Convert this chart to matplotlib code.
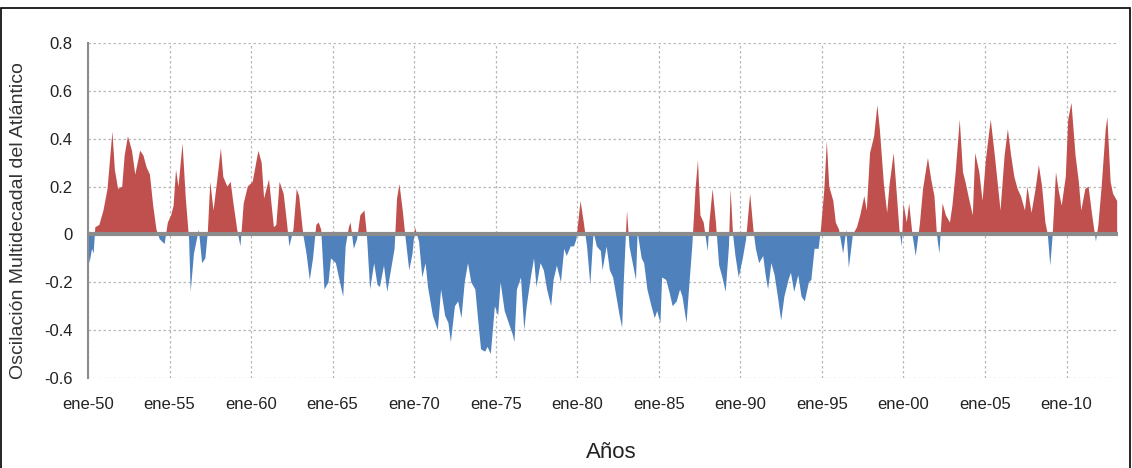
import numpy as np
import matplotlib
matplotlib.use("Agg")
import matplotlib.pyplot as plt
from matplotlib.patches import Rectangle

plt.rcParams['font.family'] = ['Liberation Sans', 'DejaVu Sans']

# fecha (año decimal) y valor del índice AMO
fechas = [
    1950.0, 1950.1, 1950.25, 1950.35, 1950.45, 1950.7, 1950.95, 1951.2, 1951.5, 1951.65,
    1951.85, 1952.1, 1952.25, 1952.45, 1952.7, 1952.9, 1953.2, 1953.4, 1953.6, 1953.8,
    1954.0, 1954.2, 1954.4, 1954.7, 1954.9, 1955.1, 1955.25, 1955.4, 1955.55, 1955.8,
    1956.0, 1956.2, 1956.3, 1956.5, 1956.8, 1957.0, 1957.2, 1957.35, 1957.5, 1957.7,
    1957.95, 1958.15, 1958.3, 1958.55, 1958.75, 1958.9, 1959.15, 1959.35, 1959.55, 1959.8,
    1960.1, 1960.45, 1960.65, 1960.8, 1961.1, 1961.4, 1961.55, 1961.75, 1962.0, 1962.2,
    1962.35, 1962.6, 1962.8, 1962.95, 1963.2, 1963.4, 1963.6, 1963.8, 1964.0, 1964.15,
    1964.3, 1964.5, 1964.75, 1964.9, 1965.2, 1965.55, 1965.65, 1965.8, 1966.0, 1966.1,
    1966.3, 1966.5, 1966.7, 1966.95, 1967.1, 1967.3, 1967.55, 1967.75, 1967.9, 1968.15,
    1968.35, 1968.55, 1968.8, 1968.95, 1969.1, 1969.3, 1969.45, 1969.7, 1969.9, 1970.05,
    1970.3, 1970.5, 1970.7, 1970.85, 1971.0, 1971.15, 1971.45, 1971.65, 1971.9, 1972.1,
    1972.25, 1972.5, 1972.7, 1972.9, 1973.1, 1973.3, 1973.5, 1973.75, 1973.9, 1974.1,
    1974.35, 1974.5, 1974.7, 1974.95, 1975.15, 1975.3, 1975.55, 1975.75, 1976.05, 1976.15,
    1976.3, 1976.55, 1976.75, 1976.9, 1977.15, 1977.35, 1977.5, 1977.75, 1977.95, 1978.15,
    1978.4, 1978.55, 1978.75, 1979.0, 1979.2, 1979.35, 1979.6, 1979.8, 1979.95, 1980.2,
    1980.4, 1980.6, 1980.8, 1981.0, 1981.2, 1981.45, 1981.55, 1981.8, 1982.0, 1982.2,
    1982.4, 1982.6, 1982.75, 1982.85, 1983.05, 1983.2, 1983.4, 1983.6, 1983.7, 1983.95,
    1984.1, 1984.3, 1984.55, 1984.75, 1984.9, 1985.1, 1985.2, 1985.45, 1985.65, 1985.85,
    1986.1, 1986.3, 1986.45, 1986.7, 1986.85, 1987.05, 1987.25, 1987.4, 1987.55, 1987.75,
    1988.0, 1988.1, 1988.3, 1988.5, 1988.7, 1988.9, 1989.1, 1989.3, 1989.4, 1989.55,
    1989.7, 1989.9, 1990.15, 1990.35, 1990.6, 1990.8, 1990.95, 1991.15, 1991.4, 1991.55,
    1991.7, 1991.9, 1992.1, 1992.3, 1992.5, 1992.7, 1992.95, 1993.1, 1993.3, 1993.55,
    1993.75, 1993.95, 1994.2, 1994.35, 1994.55, 1994.8, 1994.95, 1995.15, 1995.3, 1995.45,
    1995.7, 1995.85, 1996.05, 1996.3, 1996.5, 1996.65, 1996.9, 1997.15, 1997.35, 1997.6,
    1997.75, 1997.95, 1998.2, 1998.4, 1998.55, 1998.8, 1999.0, 1999.15, 1999.4, 1999.6,
    1999.75, 1999.9, 2000.0, 2000.2, 2000.35, 2000.55, 2000.75, 2001.0, 2001.2, 2001.5,
    2001.7, 2001.9, 2002.05, 2002.2, 2002.4, 2002.6, 2002.85, 2003.0, 2003.2, 2003.45,
    2003.65, 2003.8, 2004.05, 2004.25, 2004.4, 2004.65, 2004.85, 2005.05, 2005.35, 2005.6,
    2005.8, 2005.95, 2006.2, 2006.4, 2006.6, 2006.8, 2007.0, 2007.2, 2007.45, 2007.6,
    2007.85, 2008.1, 2008.3, 2008.5, 2008.7, 2008.85, 2009.0, 2009.15, 2009.35, 2009.5,
    2009.7, 2009.95, 2010.1, 2010.3, 2010.55, 2010.75, 2010.9, 2011.15, 2011.35, 2011.55,
    2011.8, 2011.95, 2012.15, 2012.4, 2012.5, 2012.7, 2012.85, 2013.1,
]
amo = [
    -0.05, -0.12, -0.06, -0.08, 0.03, 0.04, 0.10, 0.19, 0.43, 0.27,
    0.19, 0.20, 0.33, 0.41, 0.35, 0.25, 0.35, 0.33, 0.28, 0.25,
    0.12, 0.02, -0.02, -0.04, 0.05, 0.08, 0.12, 0.27, 0.20, 0.38,
    0.15, -0.02, -0.24, -0.08, 0.02, -0.12, -0.10, 0.01, 0.22, 0.10,
    0.24, 0.36, 0.24, 0.20, 0.22, 0.14, 0.02, -0.05, 0.13, 0.20,
    0.22, 0.35, 0.30, 0.15, 0.23, 0.03, 0.04, 0.22, 0.17, 0.05,
    -0.05, 0.02, 0.19, 0.16, 0.0, -0.08, -0.19, -0.10, 0.04, 0.05,
    0.02, -0.23, -0.20, -0.10, -0.12, -0.23, -0.26, -0.05, 0.03, 0.05,
    -0.06, -0.02, 0.08, 0.10, 0.0, -0.23, -0.12, -0.21, -0.22, -0.13,
    -0.24, -0.16, -0.06, 0.15, 0.21, 0.10, 0.0, -0.15, -0.08, 0.03,
    -0.03, -0.18, -0.12, -0.22, -0.28, -0.34, -0.40, -0.23, -0.34, -0.37,
    -0.45, -0.30, -0.28, -0.35, -0.20, -0.12, -0.20, -0.23, -0.34, -0.48,
    -0.49, -0.47, -0.50, -0.30, -0.34, -0.20, -0.32, -0.36, -0.42, -0.45,
    -0.23, -0.18, -0.40, -0.30, -0.18, -0.10, -0.22, -0.12, -0.15, -0.23,
    -0.30, -0.19, -0.13, -0.20, -0.06, -0.09, -0.05, -0.05, -0.02, 0.14,
    0.05, -0.05, -0.21, 0.01, -0.05, -0.07, -0.15, -0.05, -0.15, -0.18,
    -0.26, -0.34, -0.39, -0.20, 0.10, -0.05, -0.12, -0.19, 0.01, -0.10,
    -0.12, -0.23, -0.30, -0.35, -0.32, -0.37, -0.18, -0.19, -0.24, -0.30,
    -0.28, -0.23, -0.26, -0.37, -0.23, -0.05, 0.19, 0.31, 0.08, 0.05,
    -0.07, 0.05, 0.19, 0.05, -0.13, -0.18, -0.24, -0.05, 0.19, 0.0,
    -0.09, -0.18, -0.10, -0.02, 0.17, 0.02, -0.06, -0.12, -0.09, -0.17,
    -0.23, -0.12, -0.17, -0.26, -0.36, -0.26, -0.19, -0.16, -0.24, -0.17,
    -0.26, -0.28, -0.20, -0.19, -0.06, -0.06, 0.03, 0.19, 0.39, 0.20,
    0.14, 0.05, 0.02, -0.08, 0.02, -0.14, 0.0, 0.03, 0.08, 0.16,
    0.10, 0.34, 0.41, 0.54, 0.44, 0.21, 0.09, 0.21, 0.34, 0.16,
    0.02, -0.05, 0.13, 0.05, 0.13, 0.0, -0.09, 0.04, 0.19, 0.32,
    0.23, 0.16, 0.0, -0.08, 0.13, 0.08, 0.05, 0.12, 0.26, 0.48,
    0.26, 0.22, 0.14, 0.08, 0.34, 0.26, 0.14, 0.31, 0.48, 0.33,
    0.20, 0.10, 0.33, 0.44, 0.33, 0.24, 0.19, 0.16, 0.10, 0.20,
    0.09, 0.19, 0.29, 0.20, 0.05, 0.0, -0.13, 0.0, 0.26, 0.19,
    0.12, 0.24, 0.48, 0.55, 0.33, 0.22, 0.10, 0.19, 0.20, 0.09,
    -0.03, 0.04, 0.20, 0.44, 0.49, 0.22, 0.17, 0.14,
]

ticks_x = [1950, 1955, 1960, 1965, 1970, 1975, 1980, 1985, 1990, 1995, 2000, 2005, 2010]
etiquetas_x = ['ene-50', 'ene-55', 'ene-60', 'ene-65', 'ene-70', 'ene-75', 'ene-80',
               'ene-85', 'ene-90', 'ene-95', 'ene-00', 'ene-05', 'ene-10']
ticks_y = [-0.6, -0.4, -0.2, 0.0, 0.2, 0.4, 0.6, 0.8]
etiquetas_y = ['-0.6', '-0.4', '-0.2', '0', '0.2', '0.4', '0.6', '0.8']

x = np.array(fechas)
y = np.array(amo)

fig = plt.figure(figsize=(11.32, 4.68), dpi=100)
ax = fig.add_axes([0.0777, 0.1923, 0.9099, 0.7158])

ax.fill_between(x, 0, y, where=y >= 0, interpolate=True, color='#C0504D', lw=0, zorder=2)
ax.fill_between(x, 0, y, where=y <= 0, interpolate=True, color='#4F81BD', lw=0, zorder=2)
ax.axhline(0, color='#8c8c8c', lw=3, zorder=3)

ax.set_xlim(1950, 2013.15)
ax.set_ylim(-0.6, 0.8)
ax.set_xticks(ticks_x)
ax.set_xticklabels(etiquetas_x)
ax.set_yticks(ticks_y)
ax.set_yticklabels(etiquetas_y)
ax.tick_params(length=0, labelsize=12, colors='#222222')
ax.tick_params(axis='x', pad=13.5)
ax.tick_params(axis='y', pad=11)
ax.grid(True, color='#b8b8b8', linestyle=(0, (2, 2)), lw=0.9, zorder=0)

for s in ['top', 'right', 'bottom']:
    ax.spines[s].set_visible(False)
ax.spines['left'].set_color('#8c8c8c')
ax.spines['left'].set_linewidth(1.5)

ax.set_xlabel('Años', fontsize=16, color='#222222')
ax.xaxis.set_label_coords(0.508, -0.19)
ax.set_ylabel('Oscilación Multidecadal del Atlántico', fontsize=14, color='#333333')
ax.yaxis.set_label_coords(-0.059, 0.47)

fig.patches.append(Rectangle((0.001, -0.01), 0.997, 0.993, transform=fig.transFigure,
                             fill=False, edgecolor='black', lw=1.2))

fig.savefig('out.png', dpi=100)
